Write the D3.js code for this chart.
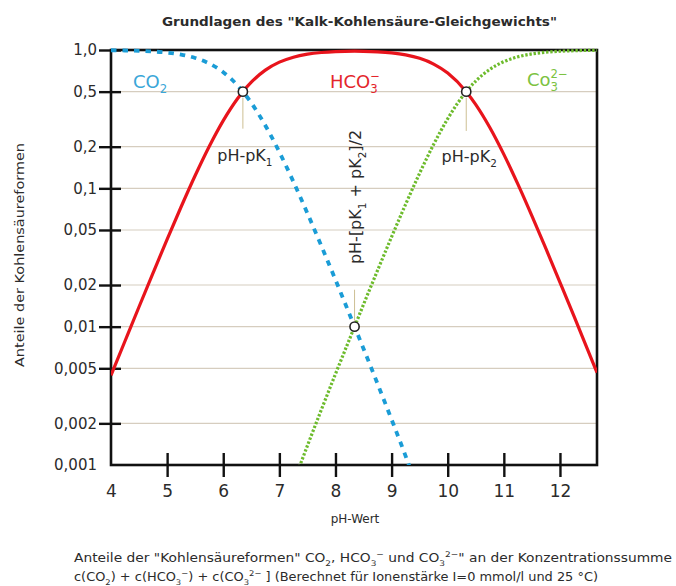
<!DOCTYPE html>
<html>
<head>
<meta charset="utf-8">
<script src="https://cdn.jsdelivr.net/npm/d3@7"></script>
<style>
	body { margin: 0; background: #fff; }
	text { font-family: "DejaVu Sans", sans-serif; fill: #2b2b2b; }
</style>
</head>
<body>
<script>
//data: pH values and fractions of each carbonic acid form
var co2PH = [4, 4.25, 4.5, 4.75, 5, 5.25, 5.5, 5.75, 6, 6.25, 6.35, 6.5, 6.75, 7, 7.25, 7.5, 7.75, 8, 8.34, 8.5, 8.75, 9, 9.25, 9.35];
var co2Val = [0.9956, 0.9921, 0.9861, 0.9755, 0.9572, 0.9264, 0.8762, 0.7992, 0.6912, 0.5573, 0.5, 0.4145, 0.2848, 0.1829, 0.1117, 0.066, 0.0382, 0.0218, 0.01, 0.00693, 0.00386, 0.00213, 0.00116, 0.0009];

var hco3PH = [4, 4.25, 4.5, 4.75, 5, 5.25, 5.5, 5.75, 6, 6.25, 6.35, 6.5, 6.75, 7, 7.25, 7.5, 7.75, 8, 8.34, 8.5, 8.75, 9, 9.25, 9.5, 9.75, 10, 10.33, 10.5, 10.75, 11, 11.25, 11.5, 11.75, 12, 12.25, 12.5, 12.66];
var hco3Val = [0.00445, 0.00788, 0.01393, 0.0245, 0.0428, 0.0736, 0.1238, 0.2008, 0.3088, 0.4427, 0.5, 0.5855, 0.7153, 0.8168, 0.8875, 0.9326, 0.9593, 0.9737, 0.98, 0.9786, 0.9706, 0.9533, 0.9221, 0.8706, 0.7915, 0.6812, 0.5, 0.4034, 0.2755, 0.1761, 0.1073, 0.0633, 0.0366, 0.0209, 0.0119, 0.00672, 0.00466];

var co3PH = [7.25, 7.5, 7.75, 8, 8.34, 8.5, 8.75, 9, 9.25, 9.5, 9.75, 10, 10.33, 10.5, 10.75, 11, 11.25, 11.5, 11.75, 12, 12.25, 12.5, 12.66];
var co3Val = [0.00074, 0.00138, 0.00252, 0.00455, 0.01, 0.01448, 0.02553, 0.04459, 0.0767, 0.1288, 0.2082, 0.3186, 0.5, 0.5966, 0.7245, 0.8239, 0.8927, 0.9367, 0.9634, 0.9791, 0.9881, 0.9933, 0.9953];

//marked points: pK1, (pK1+pK2)/2, pK2
var markPH = [6.35, 8.34, 10.33];
var markVal = [0.5, 0.01, 0.5];

var xTicks = [4, 5, 6, 7, 8, 9, 10, 11, 12];
var yTicks = [1, 0.5, 0.2, 0.1, 0.05, 0.02, 0.01, 0.005, 0.002, 0.001];
var yTickLabels = ["1,0", "0,5", "0,2", "0,1", "0,05", "0,02", "0,01", "0,005", "0,002", "0,001"];

window.onload = drawChart();

function drawChart(){
	var width = 676,
		height = 586;
	var left = 111, right = 597, top = 50, bottom = 465;

	var svg = d3.select("body")
		.append("svg")
		.attr("width", width)
		.attr("height", height);

	var x = d3.scaleLinear()
		.domain([4, 12.66])
		.range([left, right]);
	var y = d3.scaleLog()
		.domain([0.001, 1])
		.range([bottom, top]);

	//helper for sub- and superscripts (stack = put a superscript over the subscript before it)
	function rich(sel, parts, fs, stack){
		var shift = 0, prev = null, prevKind = "";
		parts.forEach(function(p){
			var target = p[1] == "sub" ? fs * 0.3 : p[1] == "sup" ? -fs * 0.45 : 0;
			var t = sel.append("tspan")
				.attr("dy", target - shift)
				.attr("font-size", p[1] ? fs * 0.65 : fs)
				.text(p[0]);
			if (stack && p[1] == "sup" && prevKind == "sub") {
				t.attr("dx", -prev.node().getComputedTextLength());
			}
			shift = target;
			prev = t;
			prevKind = p[1];
		});
		return sel;
	}

	//title
	svg.append("text")
		.attr("x", 162).attr("y", 26)
		.attr("font-size", 13).attr("font-weight", "bold")
		.attr("textLength", 395).attr("lengthAdjust", "spacingAndGlyphs")
		.text("Grundlagen des \"Kalk-Kohlensäure-Gleichgewichts\"");

	//grid lines
	svg.selectAll(".grid")
		.data(yTicks.slice(1, -1))
		.enter()
		.append("line")
		.attr("class", "grid")
		.attr("x1", left).attr("x2", right)
		.attr("y1", function(d){ return y(d); })
		.attr("y2", function(d){ return y(d); })
		.attr("stroke", "#d6cdbf")
		.attr("stroke-width", 1.2);

	//y axis
	var yAxis = svg.append("g")
		.attr("transform", "translate(" + left + ",0)")
		.call(d3.axisLeft(y).tickValues(yTicks.slice(0, -1)).tickSize(12).tickFormat(function(d){ return yTickLabels[yTicks.indexOf(d)]; }));
	yAxis.select(".domain").remove();
	yAxis.selectAll(".tick line").attr("x2", -12).attr("x1", 10).attr("stroke", "#111").attr("stroke-width", 2.4);
	yAxis.selectAll(".tick text").attr("x", -14).attr("font-size", 15).attr("font-family", "DejaVu Sans").attr("fill", "#333");
	svg.append("text")
		.attr("x", 97).attr("y", bottom + 5)
		.attr("text-anchor", "end").attr("font-size", 15).attr("fill", "#333")
		.text(yTickLabels[yTickLabels.length - 1]);

	//x axis
	var xAxis = svg.append("g")
		.attr("transform", "translate(0," + bottom + ")")
		.call(d3.axisBottom(x).tickValues(xTicks).tickSize(12).tickFormat(d3.format("d")));
	xAxis.select(".domain").remove();
	xAxis.selectAll(".tick line").attr("y1", -12).attr("y2", 12).attr("stroke", "#111").attr("stroke-width", 2.4)
		.filter(function(d){ return d == 4; }).remove();
	xAxis.selectAll(".tick text").attr("y", 20).attr("font-size", 17).attr("font-family", "DejaVu Sans").attr("fill", "#333");

	//frame
	svg.append("rect")
		.attr("x", left).attr("y", top)
		.attr("width", right - left).attr("height", bottom - top)
		.attr("fill", "none").attr("stroke", "#111").attr("stroke-width", 2.6);

	//axis titles
	svg.append("text")
		.attr("transform", "translate(24,255) rotate(-90)")
		.attr("text-anchor", "middle").attr("font-size", 12)
		.attr("textLength", 224).attr("lengthAdjust", "spacingAndGlyphs")
		.text("Anteile der Kohlensäureformen");
	svg.append("text")
		.attr("x", 355).attr("y", 523)
		.attr("text-anchor", "middle").attr("font-size", 12)
		.text("pH-Wert");

	//clip for the curves
	svg.append("clipPath").attr("id", "plot")
		.append("rect")
		.attr("x", left).attr("y", top - 8)
		.attr("width", right - left).attr("height", bottom - top + 8);

	var line = d3.line()
		.x(function(d){ return x(d[0]); })
		.y(function(d){ return y(d[1]); })
		.curve(d3.curveMonotoneX);

	var curves = svg.append("g").attr("clip-path", "url(#plot)");

	curves.append("path")
		.datum(d3.zip(hco3PH, hco3Val))
		.attr("d", line)
		.attr("fill", "none").attr("stroke", "#e8141c").attr("stroke-width", 3.2);
	curves.append("path")
		.datum(d3.zip(co2PH, co2Val))
		.attr("d", line)
		.attr("fill", "none").attr("stroke", "#1a9cd6").attr("stroke-width", 3.8)
		.attr("stroke-dasharray", "5.5,6");
	curves.append("path")
		.datum(d3.zip(co3PH, co3Val))
		.attr("d", line)
		.attr("fill", "none").attr("stroke", "#6dbb2c").attr("stroke-width", 3.2)
		.attr("stroke-dasharray", "2.4,1.8");

	//annotation leader lines
	var leaders = [[markPH[0], markVal[0], 0.27], [markPH[1], markVal[1], 0.0185], [markPH[2], markVal[2], 0.26]];
	svg.selectAll(".leader")
		.data(leaders)
		.enter()
		.append("line")
		.attr("class", "leader")
		.attr("x1", function(d){ return x(d[0]); })
		.attr("x2", function(d){ return x(d[0]); })
		.attr("y1", function(d){ return y(d[1]) + (d[2] < d[1] ? 6 : -6); })
		.attr("y2", function(d){ return y(d[2]); })
		.attr("stroke", "#cdbf93").attr("stroke-width", 1);

	//marker circles
	svg.selectAll(".mark")
		.data(d3.zip(markPH, markVal))
		.enter()
		.append("circle")
		.attr("class", "mark")
		.attr("cx", function(d){ return x(d[0]); })
		.attr("cy", function(d){ return y(d[1]); })
		.attr("r", 4.6)
		.attr("fill", "#fff").attr("stroke", "#222").attr("stroke-width", 1.6);

	//series labels
	rich(svg.append("text").attr("x", 133).attr("y", 88).style("fill", "#3aa6d8"),
		[["CO", ""], ["2", "sub"]], 18, true);
	rich(svg.append("text").attr("x", 330).attr("y", 88).style("fill", "#e4262b"),
		[["HCO", ""], ["3", "sub"], ["−", "sup"]], 18, true);
	rich(svg.append("text").attr("x", 527).attr("y", 86).style("fill", "#7cc242"),
		[["Co", ""], ["3", "sub"], ["2−", "sup"]], 18, true);

	//pK labels
	rich(svg.append("text").attr("x", x(markPH[0]) + 2).attr("y", 161).attr("text-anchor", "middle"),
		[["pH-pK", ""], ["1", "sub"]], 16, true);
	rich(svg.append("text").attr("x", x(markPH[2]) + 3).attr("y", 162).attr("text-anchor", "middle"),
		[["pH-pK", ""], ["2", "sub"]], 16, true);
	rich(svg.append("text").attr("transform", "translate(361," + 197 + ") rotate(-90)").attr("text-anchor", "middle"),
		[["pH-[pK", ""], ["1", "sub"], [" + pK", ""], ["2", "sub"], ["]/2", ""]], 16, true);

	//caption
	rich(svg.append("text").attr("x", 74).attr("y", 562).attr("textLength", 598).attr("lengthAdjust", "spacingAndGlyphs"),
		[["Anteile der \"Kohlensäureformen\" CO", ""], ["2", "sub"], [", HCO", ""], ["3", "sub"], ["−", "sup"],
		 [" und CO", ""], ["3", "sub"], ["2−", "sup"], ["\" an der Konzentrationssumme", ""]], 12, false);
	rich(svg.append("text").attr("x", 74).attr("y", 581).attr("textLength", 524).attr("lengthAdjust", "spacingAndGlyphs"),
		[["c(CO", ""], ["2", "sub"], [") + c(HCO", ""], ["3", "sub"], ["−", "sup"], [") + c(CO", ""], ["3", "sub"], ["2−", "sup"],
		 [" ] (Berechnet für Ionenstärke I=0 mmol/l und 25 °C)", ""]], 12, false);
};
</script>
</body>
</html>
